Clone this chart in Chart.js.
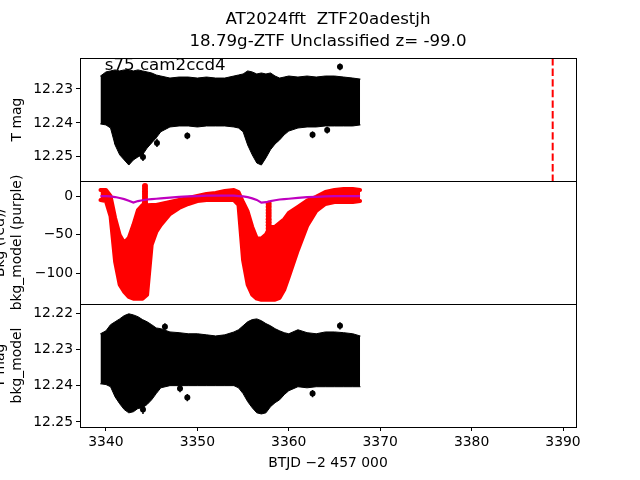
<!DOCTYPE html>
<html><head><meta charset="utf-8">
<script src="https://cdn.jsdelivr.net/npm/chart.js@4.4.1/dist/chart.umd.min.js"></script>
<style>html,body{margin:0;padding:0;background:#fff;}canvas{display:block;}</style>
</head><body>
<canvas id="c" width="640" height="480"></canvas>
<script>
// ---------- data ----------
const titleLines = ['AT2024fft  ZTF20adestjh', '18.79g-ZTF Unclassified z= -99.0'];
const sectorLabel = 's75 cam2ccd4';
const xLabel = 'BTJD \u22122 457 000';

const times = [3339.4, 3340, 3340.5, 3341, 3341.5, 3342, 3342.5, 3343, 3343.5, 3344, 3344.5, 3345, 3345.5, 3346,
  3347, 3348, 3349, 3350, 3351, 3352, 3353, 3354, 3354.5, 3355, 3355.5, 3356, 3356.5, 3357, 3357.5, 3358, 3358.5,
  3359, 3359.5, 3360, 3361, 3362, 3363, 3364, 3365, 3366, 3367, 3367.8];

// top panel: T mag band (upper / lower edge of the error-bar cloud)
const tMagUpper = [12.2262, 12.2250, 12.2247, 12.2244, 12.2247, 12.2244, 12.2244, 12.2247, 12.2244, 12.2247, 12.2250,
  12.2253, 12.2259, 12.2262, 12.2268, 12.2265, 12.2265, 12.2268, 12.2265, 12.2268, 12.2268, 12.2262, 12.2259, 12.2256,
  12.2247, 12.2250, 12.2256, 12.2253, 12.2256, 12.2253, 12.2262, 12.2268, 12.2265, 12.2262, 12.2265, 12.2262, 12.2265,
  12.2262, 12.2262, 12.2265, 12.2268, 12.2271];
const tMagLower = [12.2403, 12.2406, 12.2415, 12.2465, 12.2494, 12.2509, 12.2524, 12.2509, 12.2500, 12.2494, 12.2474,
  12.2459, 12.2444, 12.2426, 12.2412, 12.2409, 12.2409, 12.2412, 12.2409, 12.2409, 12.2409, 12.2412, 12.2415, 12.2426,
  12.2465, 12.2494, 12.2518, 12.2524, 12.2503, 12.2479, 12.2462, 12.2450, 12.2435, 12.2424, 12.2415, 12.2412, 12.2412,
  12.2409, 12.2409, 12.2409, 12.2409, 12.2406];
const tOutT = [3341.2, 3344.05, 3345.58, 3348.9, 3362.6, 3364.2, 3365.6];
const tOutM = [12.2456, 12.2500, 12.2459, 12.2438, 12.2435, 12.2421, 12.2235];
const tOutErr = [0.0012, 0.0012, 0.0012, 0.0010, 0.0010, 0.0010, 0.0010];
const eventT = 3388.87;

// middle panel: background (red cloud edges) and background model (purple)
const bkgUpper = [7.8, 7.8, 0, -28.5, -50.5, -60.8, -54.3, -37.5, -18.1, -11.6, -12, -11.6, -11.6, -10.3, -7.8, -5.2,
  -2.6, 0, 2.6, 3.9, 6.5, 7.8, 5.2, -8, -20, -40, -55, -55, -50, -40, -40, -35, -30, -22, -14, -6, -1, 5.2, 7.8, 9.1,
  9.1, 7.8];
const bkgLower = [-5.2, -6.5, -26, -85, -115, -124.2, -130.7, -133.2, -133.2, -133.2, -128.1, -63.4, -46.6, -37.5,
  -23.3, -15.5, -10.3, -6.5, -5.2, -5.2, -5.2, -5.2, -11.6, -83, -115, -128, -133, -134.5, -134.5, -134.5, -134.5,
  -132, -121.6, -104.8, -69.9, -38.8, -19.4, -10.3, -7.8, -7.8, -7.8, -6.5];
const bkgSpikeT = [3344.27, 3344.27, 3344.27, 3344.27, 3344.27, 3344.27, 3344.27, 3344.27,
  3357.8, 3357.8, 3357.8, 3357.8, 3357.8, 3357.8, 3357.8, 3357.8, 3357.8, 3357.8];
const bkgSpikeV = [13, 9.5, 6, 2.5, -1, -4.5, -8, -11.5,
  -10, -14, -18, -22, -26, -30, -34, -38, -42, -46];
const bkgModel = [0, 0, -0.5, -1.3, -2.6, -4, -6, -8.5, -6.5, -5.5, -4.5, -4, -3.5, -3, -2, -1, -0.5, 0, 0.5, 0.5, 0.5,
  0.5, 0, -0.5, -1.5, -3, -5, -8.5, -8, -6.5, -5.5, -4.5, -4, -3.5, -2.5, -1.5, -1, -0.5, 0, 0, 0, 0];

// bottom panel: T mag - bkg_model band
const corrUpper = [12.2257, 12.2249, 12.2232, 12.2224, 12.2216, 12.2207, 12.2202, 12.2205, 12.2210, 12.2218, 12.2224,
  12.2232, 12.2241, 12.2243, 12.2252, 12.2254, 12.2257, 12.2257, 12.2260, 12.2263, 12.2260, 12.2252, 12.2246, 12.2235,
  12.2224, 12.2218, 12.2216, 12.2221, 12.2229, 12.2235, 12.2243, 12.2249, 12.2254, 12.2257, 12.2246, 12.2254, 12.2257,
  12.2252, 12.2252, 12.2254, 12.2257, 12.2263];
const corrLower = [12.2395, 12.2397, 12.2403, 12.2431, 12.2450, 12.2466, 12.2475, 12.2472, 12.2463, 12.2461, 12.2452,
  12.2439, 12.2422, 12.2406, 12.2400, 12.2400, 12.2400, 12.2400, 12.2400, 12.2400, 12.2400, 12.2400, 12.2406, 12.2422,
  12.2444, 12.2461, 12.2475, 12.2478, 12.2475, 12.2458, 12.2447, 12.2439, 12.2425, 12.2414, 12.2403, 12.2406, 12.2403,
  12.2403, 12.2403, 12.2403, 12.2403, 12.2403];
const corrOutT = [3344.05, 3346.45, 3348.1, 3348.9, 3362.6, 3365.6];
const corrOutM = [12.2466, 12.2238, 12.2408, 12.2433, 12.2422, 12.2235];
const corrOutErr = [0.0012, 0.0010, 0.0010, 0.0010, 0.0010, 0.0010];

// axes
const xRange = [3337.16, 3391.42];
const xTicks = [3340, 3350, 3360, 3370, 3380, 3390];
const topRange = [12.2209, 12.2571];
const topTicks = [12.23, 12.24, 12.25];
const midRange = [-140, 19.5];
const midTicks = [0, -50, -100];
const botRange = [12.2175, 12.2514];
const botTicks = [12.22, 12.23, 12.24, 12.25];

// ---------- chart ----------
const FONT = "'DejaVu Sans', 'Liberation Sans', sans-serif";
Chart.defaults.font.family = FONT;
Chart.defaults.color = '#000';

const pair = (xs, ys) => xs.map((x, i) => ({x: x, y: ys[i]}));
const setTicks = arr => (scale => { scale.ticks = arr.map(v => ({value: v})); });
const minus = v => String(v).replace('-', '\u2212');

const tickGrid = {drawOnChartArea: false, drawTicks: true, tickLength: 4, tickColor: '#000', tickWidth: 1};
function yAxis(range, ticks, weight, titleText, titlePadTop, fmt, reverse) {
  return {
    type: 'linear', position: 'left', stack: 'panels', stackWeight: 1, weight: weight,
    reverse: reverse, min: range[0], max: range[1],
    afterBuildTicks: setTicks(ticks),
    afterFit: s => { s.width = 80; },
    ticks: {callback: fmt, font: {size: 13.9}, color: '#000', padding: 3, autoSkip: false},
    grid: tickGrid,
    border: {display: false},
    title: {display: true, text: titleText, color: '#000', font: {size: 13.9, lineHeight: 1.2},
      padding: {top: titlePadTop, bottom: 0}}
  };
}

// vertical error bars for the isolated points (drawn through the scales)
const errorBarPlugin = {
  id: 'errbars',
  beforeDatasetsDraw(chart) {
    const ctx = chart.ctx, xs = chart.scales.x;
    const sets = [[chart.scales.yTop, tOutT, tOutM, tOutErr], [chart.scales.yBot, corrOutT, corrOutM, corrOutErr]];
    ctx.save();
    ctx.strokeStyle = '#000';
    ctx.lineWidth = 1.5;
    sets.forEach(([ys, T, M, E]) => {
      T.forEach((t, i) => {
        const px = xs.getPixelForValue(t);
        ctx.beginPath();
        ctx.moveTo(px, ys.getPixelForValue(M[i] - E[i]));
        ctx.lineTo(px, ys.getPixelForValue(M[i] + E[i]));
        ctx.stroke();
      });
    });
    ctx.restore();
  }
};

const framePlugin = {
  id: 'frames',
  afterDraw(chart) {
    const ctx = chart.ctx;
    const ca = chart.chartArea;
    ctx.save();
    ctx.strokeStyle = '#000';
    ctx.lineWidth = 1;
    ['yTop', 'yMid', 'yBot'].forEach(id => {
      const s = chart.scales[id];
      const l = Math.round(ca.left) + 0.5, t = Math.round(s.top) + 0.5;
      ctx.strokeRect(l, t, Math.round(ca.right) - Math.round(ca.left), Math.round(s.bottom) - Math.round(s.top));
    });
    const st = chart.scales.yTop;
    ctx.fillStyle = '#000';
    ctx.font = '16.67px ' + FONT;
    ctx.textAlign = 'left';
    ctx.textBaseline = 'alphabetic';
    ctx.fillText(sectorLabel, ca.left + 0.05 * (ca.right - ca.left), st.top + 0.1 * (st.bottom - st.top));
    ctx.restore();
  }
};

const band = (ys, axis, color, bw, fill) => ({
  data: pair(times, ys), yAxisID: axis, borderColor: color, backgroundColor: color,
  borderWidth: bw, pointRadius: 0, fill: fill, borderJoinStyle: 'round', borderCapStyle: 'round'
});

new Chart(document.getElementById('c'), {
  type: 'line',
  data: {
    datasets: [
      {label: 'event', data: [{x: eventT, y: topRange[0]}, {x: eventT, y: topRange[1]}], yAxisID: 'yTop',
        borderColor: '#ff0000', borderWidth: 2, borderDash: [7.4, 3.2], pointRadius: 0, fill: false},
      {label: 'bkg_model', data: pair(times, bkgModel), yAxisID: 'yMid', borderColor: '#bf00bf', borderWidth: 2.2,
        pointRadius: 0, fill: false},
      {label: 'bkg spikes', data: pair(bkgSpikeT, bkgSpikeV), yAxisID: 'yMid', showLine: false, pointRadius: 3,
        pointBackgroundColor: '#ff0000', pointBorderWidth: 0},
      {label: 'T outliers', data: pair(tOutT, tOutM), yAxisID: 'yTop', showLine: false, pointRadius: 3,
        pointBackgroundColor: '#000', pointBorderWidth: 0},
      {label: 'corr outliers', data: pair(corrOutT, corrOutM), yAxisID: 'yBot', showLine: false, pointRadius: 3,
        pointBackgroundColor: '#000', pointBorderWidth: 0},
      band(tMagUpper, 'yTop', '#000', 1, '+1'),
      band(tMagLower, 'yTop', '#000', 1, false),
      band(bkgUpper, 'yMid', '#ff0000', 4, '+1'),
      band(bkgLower, 'yMid', '#ff0000', 4, false),
      band(corrUpper, 'yBot', '#000', 1, '+1'),
      band(corrLower, 'yBot', '#000', 1, false)
    ]
  },
  options: {
    responsive: false, animation: false, devicePixelRatio: 1,
    layout: {padding: {left: 0, right: 64, top: 0, bottom: 0}},
    elements: {line: {tension: 0}},
    plugins: {
      legend: {display: false}, tooltip: {enabled: false},
      title: {display: true, fullSize: false, text: titleLines, color: '#000',
        font: {size: 16.67, weight: 'normal', lineHeight: 1.32}, padding: {top: 9, bottom: 5}}
    },
    scales: {
      x: {
        type: 'linear', min: xRange[0], max: xRange[1],
        afterBuildTicks: setTicks(xTicks),
        afterFit: s => { s.height = 53; },
        ticks: {callback: v => String(v), font: {size: 13.9}, color: '#000', padding: 3, maxRotation: 0, autoSkip: false},
        grid: tickGrid,
        border: {display: false},
        title: {display: true, text: xLabel, color: '#000', font: {size: 13.9, lineHeight: 1.2},
          padding: {top: 0, bottom: 8.65}}
      },
      yBot: yAxis(botRange, botTicks, 1, ['T mag', 'bkg_model'], -7.55, v => v.toFixed(2), true),
      yMid: yAxis(midRange, midTicks, 2, ['Bkg (red)/', 'bkg_model (purple)'], -7.55, minus, false),
      yTop: yAxis(topRange, topTicks, 3, 'T mag', 8.65, v => v.toFixed(2), true)
    }
  },
  plugins: [errorBarPlugin, framePlugin]
});
</script>
</body></html>
